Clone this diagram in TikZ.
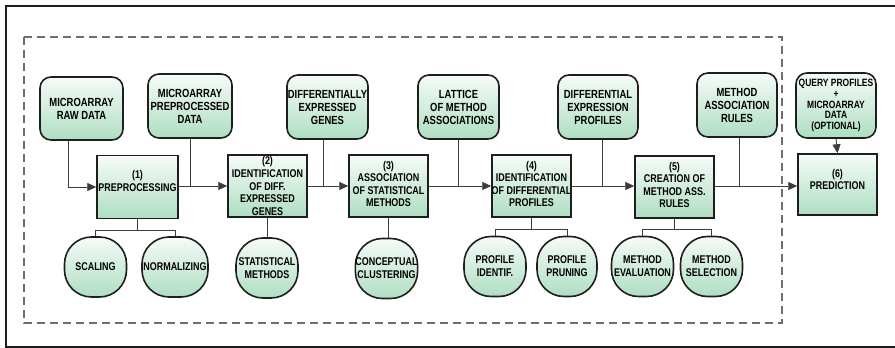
\documentclass[tikz,border=0pt]{standalone}
\usepackage{fontspec}
\setmainfont{Liberation Sans}[FakeStretch=0.8]
\usetikzlibrary{arrows.meta}
\definecolor{gtop}{RGB}{246,251,248}
\definecolor{gbot}{RGB}{174,222,194}
\definecolor{edge}{RGB}{30,30,30}
\definecolor{wire}{RGB}{60,60,60}
\definecolor{dashc}{RGB}{110,110,110}
\tikzset{
  datastore/.style={draw=edge, line width=1.6pt, rounded corners=11pt,
    top color=gtop, bottom color=gbot, minimum width=81pt, minimum height=64pt,
    inner sep=0pt, align=center, font=\bfseries\fontsize{11.8}{13}\selectfont},
  procbox/.style={draw=edge, line width=1.5pt, top color=gtop, bottom color=gbot,
    minimum width=79pt, minimum height=62pt, inner sep=0pt},
  proctext/.style={align=center, inner sep=0pt, font=\bfseries\fontsize{11.2}{12.6}\selectfont},
  leaf/.style={draw=edge, line width=1.6pt, rounded corners=27pt,
    top color=gtop, bottom color=gbot, minimum width=62pt, minimum height=60pt,
    inner sep=0pt, align=center, font=\bfseries\fontsize{11.2}{13}\selectfont},
  wireline/.style={draw=wire, line width=0.9pt},
  flow/.style={wireline, -{Triangle[length=9pt,width=8pt]}},
}
\begin{document}
\begin{tikzpicture}[x=1pt,y=-1pt]
\useasboundingbox (0,0) rectangle (895,348);
% outer frame (open on the right)
\draw[edge, line width=1.6pt] (895,6) -- (6,6) -- (6,347) -- (895,347);
% dashed frame
\draw[dashc, line width=1.1pt, dash pattern=on 8pt off 5pt] (24,37) rectangle (782,323);

% data stores
\node[datastore, minimum width=83pt, minimum height=63pt] (d1) at (81.5,108.5) {MICROARRAY\\RAW DATA};
\node[datastore, minimum width=84pt] (d2) at (190,106) {MICROARRAY\\PREPROCESSED\\DATA};
\node[datastore] (d3) at (327.5,107) {DIFFERENTIALLY\\EXPRESSED\\GENES};
\node[datastore] (d4) at (458.5,107) {LATTICE\\OF METHOD\\ASSOCIATIONS};
\node[datastore, minimum width=80pt] (d5) at (598,107) {DIFFERENTIAL\\EXPRESSION\\PROFILES};
\node[datastore, minimum width=80pt] (d6) at (737,105) {METHOD\\ASSOCIATION\\RULES};
\node[datastore, minimum width=80pt, minimum height=65pt,
      font=\bfseries\fontsize{10.6}{10.8}\selectfont] (d7) at (836,105.5)
      {QUERY PROFILES\\+\\MICROARRAY\\DATA\\(OPTIONAL)};

% process boxes
\node[procbox, minimum width=81pt, minimum height=63pt] (p1) at (137.5,187) {};
\node[procbox] (p2) at (267.5,186) {};
\node[procbox] (p3) at (388.5,186) {};
\node[procbox] (p4) at (531.5,186) {};
\node[procbox] (p5) at (674.5,187) {};
\node[procbox, minimum height=61pt] (p6) at (837.5,184.5) {};
\node[proctext, yshift=6pt] (t1) at (p1) {(1)\\PREPROCESSING};
\node[proctext] (t2) at (p2) {(2)\\IDENTIFICATION\\OF DIFF.\\EXPRESSED\\GENES};
\node[proctext, yshift=2pt] (t3) at (p3) {(3)\\ASSOCIATION\\OF STATISTICAL\\METHODS};
\node[proctext, yshift=2pt] (t4) at (p4) {(4)\\IDENTIFICATION\\OF DIFFERENTIAL\\PROFILES};
\node[proctext, yshift=2pt] (t5) at (p5) {(5)\\CREATION OF\\METHOD ASS.\\RULES};
\node[proctext, yshift=5pt] (t6) at (p6) {(6)\\PREDICTION};

% leaves
\node[leaf] (c1) at (95.5,267) {SCALING};
\node[leaf, minimum width=66pt] (c2) at (175,267) {NORMALIZING};
\node[leaf] (c3) at (267,268) {STATISTICAL\\METHODS};
\node[leaf] (c4) at (386.5,268.5) {CONCEPTUAL\\CLUSTERING};
\node[leaf] (c5) at (495,266.5) {PROFILE\\IDENTIF.};
\node[leaf, minimum width=60pt] (c6) at (567,266.5) {PROFILE\\PRUNING};
\node[leaf] (c7) at (642.5,266.5) {METHOD\\EVALUATION};
\node[leaf] (c8) at (711.5,266.5) {METHOD\\SELECTION};

% main flow
\draw[flow] ([xshift=-13.5pt]d1.south) |- (p1.west);
\draw[flow] (p1.east |- p2.west) -- (p2.west);
\draw[flow] (p2.east) -- (p3.west);
\draw[flow] (p3.east) -- (p4.west);
\draw[flow] (p4.east) -- (p5.west |- p4.east);
\draw[flow] (p5.east |- p4.east) -- (p6.west |- p4.east);
\draw[flow] (d7.south) -- (p6.north);

% inputs joining the flow
\draw[wireline] (d2.south) -- (d2.south |- p2.west);
\draw[wireline] ([xshift=-4.5pt]d3.south) -- ([xshift=-4.5pt]d3.south |- p3.west);
\draw[wireline] (d4.south) -- (d4.south |- p4.west);
\draw[wireline] ([xshift=4pt]d5.south) -- ([xshift=4pt]d5.south |- p4.east);
\draw[wireline] ([xshift=2pt]d6.south) -- ([xshift=2pt]d6.south |- p4.east);

% trees
\draw[wireline] (p1.south) -- ++(0,11) coordinate (j1);
\draw[wireline] (c1.north) |- (j1) -| (c2.north);
\draw[wireline] (p2.south) -- (p2.south |- c3.north);
\draw[wireline] (p3.south) -- (p3.south |- c4.north);
\draw[wireline] (p4.south) -- ++(0,12) coordinate (j4);
\draw[wireline] (c5.north) |- (j4) -| (c6.north);
\draw[wireline] (p5.south) -- ++(0,11) coordinate (j5);
\draw[wireline] (c7.north) |- (j5) -| (c8.north);
\end{tikzpicture}
\end{document}
